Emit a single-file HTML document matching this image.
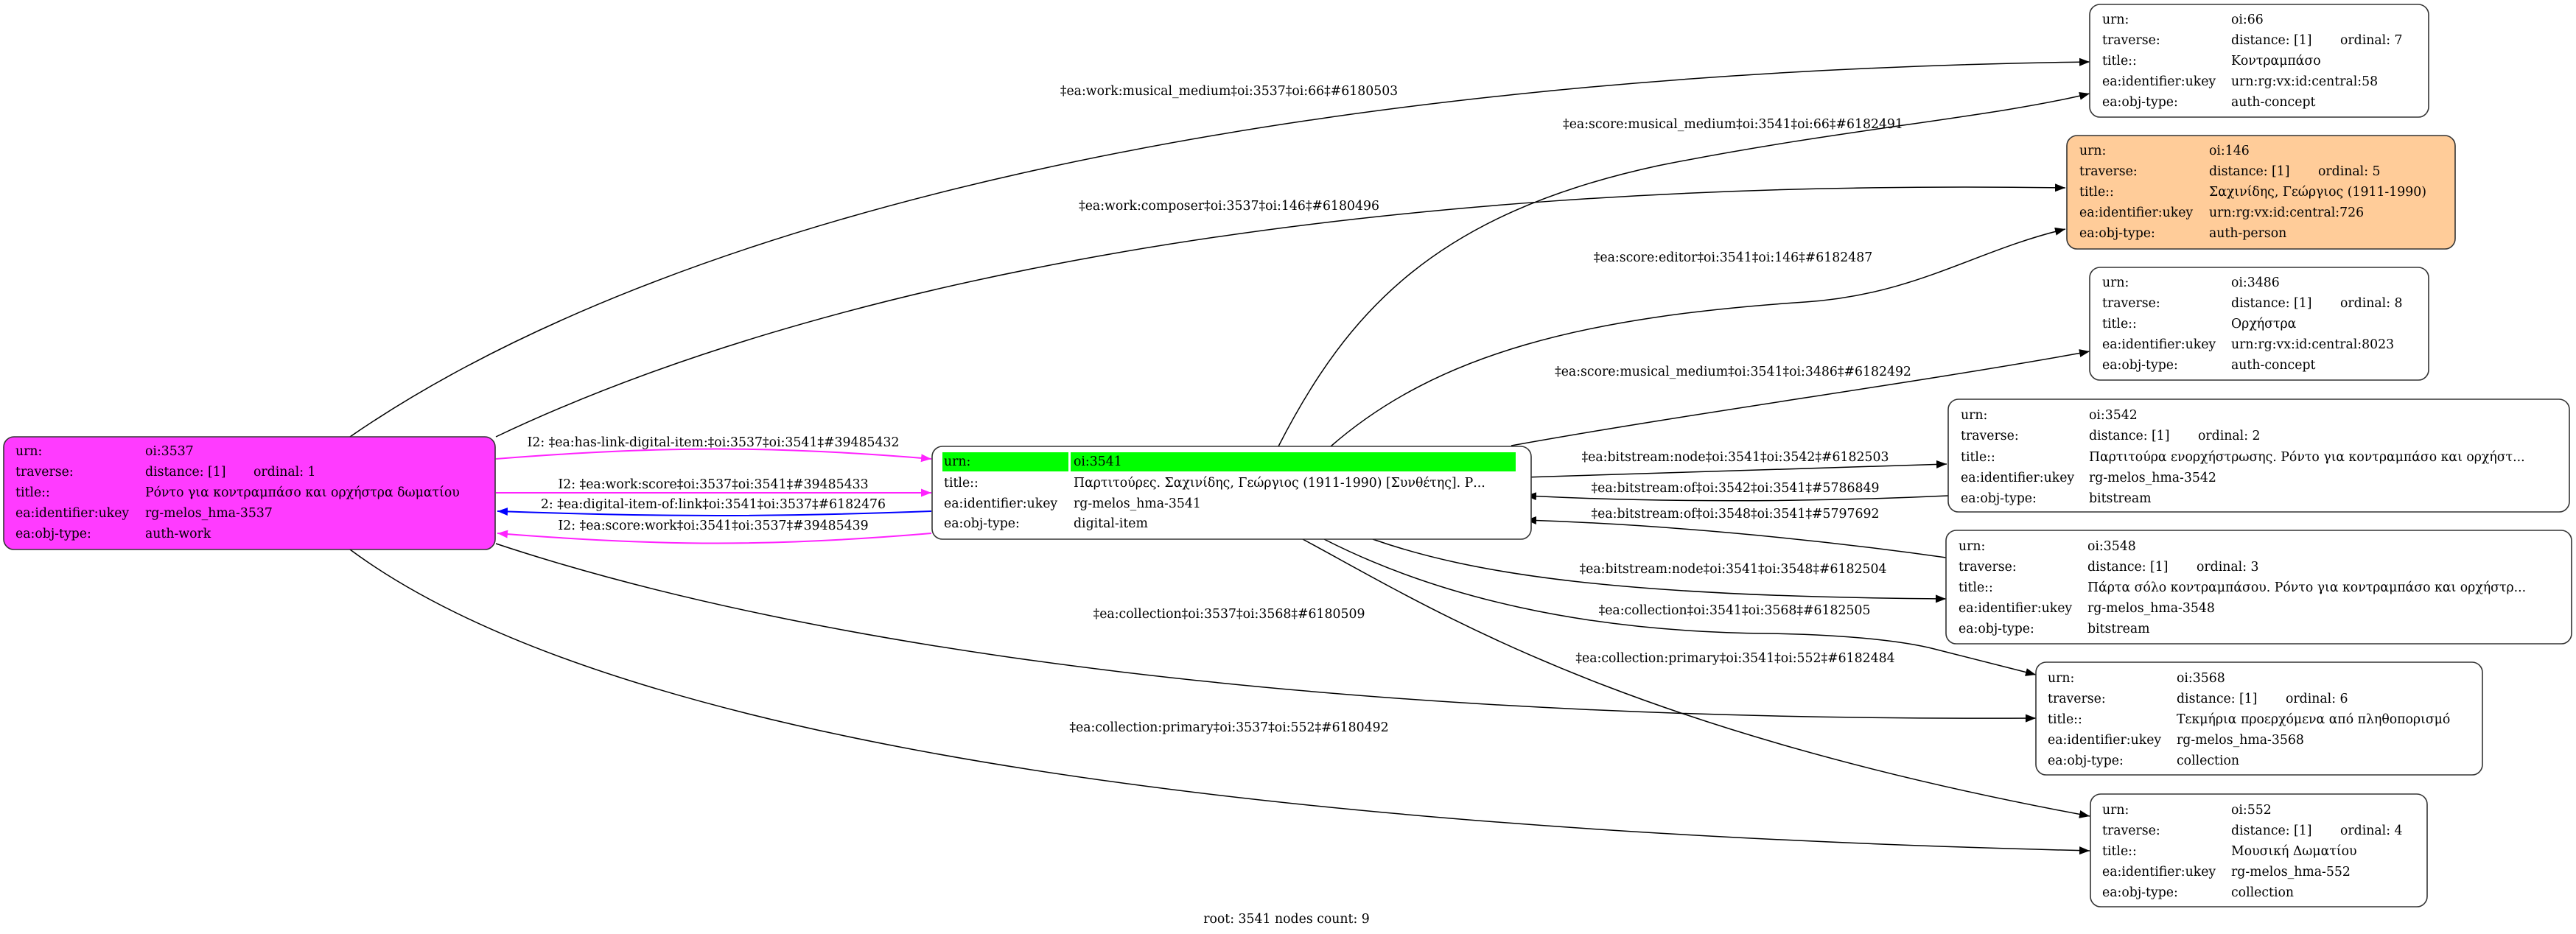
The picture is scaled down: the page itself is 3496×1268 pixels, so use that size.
<!DOCTYPE html>
<html><head><meta charset="utf-8">
<style>
html,body{margin:0;padding:0;background:#fff;}
svg{display:block;}
text{font-family:"DejaVu Serif","Liberation Serif",serif;font-size:17.3px;fill:#000;white-space:pre;}
.e{fill:none;stroke:#000;stroke-width:1.5;}
.m{fill:none;stroke:#ff22ff;stroke-width:2;}
.b{fill:none;stroke:#0000ff;stroke-width:2;}
.n{stroke:#333;stroke-width:1.6;}
.lab{text-anchor:middle;}
</style></head>
<body>
<svg width="3496" height="1268" viewBox="0 0 3496 1268" xmlns="http://www.w3.org/2000/svg">
<defs>
<marker id="ak" markerUnits="userSpaceOnUse" markerWidth="16" markerHeight="12" refX="14" refY="5.5" orient="auto"><path d="M0,0 L14,5.5 L0,11 Z" fill="#000"/></marker>
<marker id="am" markerUnits="userSpaceOnUse" markerWidth="16" markerHeight="12" refX="14" refY="5.5" orient="auto"><path d="M0,0 L14,5.5 L0,11 Z" fill="#ff22ff"/></marker>
<marker id="ab" markerUnits="userSpaceOnUse" markerWidth="16" markerHeight="12" refX="14" refY="5.5" orient="auto"><path d="M0,0 L14,5.5 L0,11 Z" fill="#0000ff"/></marker>
</defs>

<!-- edges -->
<path class="e" marker-end="url(#ak)" d="M475,593 C900,300 1700,100 2836,84"/>
<path class="e" marker-end="url(#ak)" d="M673,593 C1100,390 1800,240 2803,255"/>
<path class="e" marker-end="url(#ak)" d="M1735,606 C1830,420 1950,290 2250,225 C2500,175 2700,160 2836,127"/>
<path class="e" marker-end="url(#ak)" d="M1806,606 C1950,480 2150,430 2450,410 C2600,400 2680,340 2803,311"/>
<path class="e" marker-end="url(#ak)" d="M2051,605 C2300,560 2600,520 2836,477"/>
<path class="e" marker-end="url(#ak)" d="M2069,648 L2642,630"/>
<path class="e" marker-end="url(#ak)" d="M2644,673 C2450,682 2250,682 2071,673"/>
<path class="e" marker-end="url(#ak)" d="M2641,757 C2450,730 2250,712 2071,706"/>
<path class="e" marker-end="url(#ak)" d="M1863,732 C2000,780 2200,810 2641,813"/>
<path class="e" marker-end="url(#ak)" d="M1797,732 C1950,810 2150,858 2400,860 C2520,862 2590,872 2625,881 L2763,916"/>
<path class="e" marker-end="url(#ak)" d="M1768,732 C1950,830 2200,990 2836,1108"/>
<path class="e" marker-end="url(#ak)" d="M673,738 C1100,880 1800,980 2763,975"/>
<path class="e" marker-end="url(#ak)" d="M475,746 C750,950 1400,1120 2836,1155"/>

<path class="m" marker-end="url(#am)" d="M673,623 C900,605 1050,605 1264,623"/>
<path class="m" marker-end="url(#am)" d="M673,669 L1264,669"/>
<path class="b" marker-end="url(#ab)" d="M1264,694 C1050,702 900,702 675,694"/>
<path class="m" marker-end="url(#am)" d="M1264,724 C1050,742 900,742 675,724"/>

<!-- edge labels -->
<text class="lab" x="1668" y="129">‡ea:work:musical_medium‡oi:3537‡oi:66‡#6180503</text>
<text class="lab" x="1668" y="285">‡ea:work:composer‡oi:3537‡oi:146‡#6180496</text>
<text class="lab" x="2352" y="174">‡ea:score:musical_medium‡oi:3541‡oi:66‡#6182491</text>
<text class="lab" x="2352" y="355">‡ea:score:editor‡oi:3541‡oi:146‡#6182487</text>
<text class="lab" x="2352" y="510">‡ea:score:musical_medium‡oi:3541‡oi:3486‡#6182492</text>
<text class="lab" x="2355" y="626">‡ea:bitstream:node‡oi:3541‡oi:3542‡#6182503</text>
<text class="lab" x="2355" y="668">‡ea:bitstream:of‡oi:3542‡oi:3541‡#5786849</text>
<text class="lab" x="2355" y="703">‡ea:bitstream:of‡oi:3548‡oi:3541‡#5797692</text>
<text class="lab" x="2352" y="778">‡ea:bitstream:node‡oi:3541‡oi:3548‡#6182504</text>
<text class="lab" x="2354" y="834">‡ea:collection‡oi:3541‡oi:3568‡#6182505</text>
<text class="lab" x="2355" y="899">‡ea:collection:primary‡oi:3541‡oi:552‡#6182484</text>
<text class="lab" x="1668" y="839">‡ea:collection‡oi:3537‡oi:3568‡#6180509</text>
<text class="lab" x="1668" y="993">‡ea:collection:primary‡oi:3537‡oi:552‡#6180492</text>
<text class="lab" x="968" y="606">I2: ‡ea:has-link-digital-item:‡oi:3537‡oi:3541‡#39485432</text>
<text class="lab" x="968" y="663">I2: ‡ea:work:score‡oi:3537‡oi:3541‡#39485433</text>
<text class="lab" x="968" y="690">2: ‡ea:digital-item-of:link‡oi:3541‡oi:3537‡#6182476</text>
<text class="lab" x="968" y="719">I2: ‡ea:score:work‡oi:3541‡oi:3537‡#39485439</text>

<!-- node 3537 -->
<rect class="n" x="5" y="593" width="667" height="153" rx="14" fill="#ff3bff"/>
<g>
<text x="21" y="618">urn:</text><text x="197" y="618">oi:3537</text>
<text x="21" y="646">traverse:</text><text x="197" y="646">distance: [1]</text><text x="344" y="646">ordinal: 1</text>
<text x="21" y="674">title::</text><text x="197" y="674">Ρόντο για κοντραμπάσο και ορχήστρα δωματίου</text>
<text x="21" y="702">ea:identifier:ukey</text><text x="197" y="702">rg-melos_hma-3537</text>
<text x="21" y="730">ea:obj-type:</text><text x="197" y="730">auth-work</text>
</g>

<!-- node 3541 -->
<rect class="n" x="1265" y="606" width="813" height="126" rx="14" fill="#fff"/>
<rect x="1279" y="614" width="171" height="26" fill="#00ff00"/>
<rect x="1453" y="614" width="604" height="26" fill="#00ff00"/>
<text x="1281" y="632">urn:</text><text x="1457" y="632">oi:3541</text>
<text x="1281" y="661">title::</text><text x="1457" y="661">Παρτιτούρες. Σαχινίδης, Γεώργιος (1911-1990) [Συνθέτης]. Ρ...</text>
<text x="1281" y="689">ea:identifier:ukey</text><text x="1457" y="689">rg-melos_hma-3541</text>
<text x="1281" y="716">ea:obj-type:</text><text x="1457" y="716">digital-item</text>

<!-- node 66 -->
<rect class="n" x="2836" y="6" width="460" height="153" rx="14" fill="#fff"/>
<text x="2853" y="32">urn:</text><text x="3028" y="32">oi:66</text>
<text x="2853" y="60">traverse:</text><text x="3028" y="60">distance: [1]</text><text x="3176" y="60">ordinal: 7</text>
<text x="2853" y="88">title::</text><text x="3028" y="88">Κοντραμπάσο</text>
<text x="2853" y="116">ea:identifier:ukey</text><text x="3028" y="116">urn:rg:vx:id:central:58</text>
<text x="2853" y="144">ea:obj-type:</text><text x="3028" y="144">auth-concept</text>

<!-- node 146 -->
<rect class="n" x="2805" y="184" width="527" height="154" rx="14" fill="#ffcc99"/>
<text x="2822" y="210">urn:</text><text x="2998" y="210">oi:146</text>
<text x="2822" y="238">traverse:</text><text x="2998" y="238">distance: [1]</text><text x="3146" y="238">ordinal: 5</text>
<text x="2822" y="266">title::</text><text x="2998" y="266">Σαχινίδης, Γεώργιος (1911-1990)</text>
<text x="2822" y="294">ea:identifier:ukey</text><text x="2998" y="294">urn:rg:vx:id:central:726</text>
<text x="2822" y="322">ea:obj-type:</text><text x="2998" y="322">auth-person</text>

<!-- node 3486 -->
<rect class="n" x="2836" y="363" width="460" height="153" rx="14" fill="#fff"/>
<text x="2853" y="389">urn:</text><text x="3028" y="389">oi:3486</text>
<text x="2853" y="417">traverse:</text><text x="3028" y="417">distance: [1]</text><text x="3176" y="417">ordinal: 8</text>
<text x="2853" y="445">title::</text><text x="3028" y="445">Ορχήστρα</text>
<text x="2853" y="473">ea:identifier:ukey</text><text x="3028" y="473">urn:rg:vx:id:central:8023</text>
<text x="2853" y="501">ea:obj-type:</text><text x="3028" y="501">auth-concept</text>

<!-- node 3542 -->
<rect class="n" x="2644" y="542" width="843" height="153" rx="14" fill="#fff"/>
<text x="2661" y="569">urn:</text><text x="2835" y="569">oi:3542</text>
<text x="2661" y="597">traverse:</text><text x="2835" y="597">distance: [1]</text><text x="2983" y="597">ordinal: 2</text>
<text x="2661" y="626">title::</text><text x="2835" y="626">Παρτιτούρα ενορχήστρωσης. Ρόντο για κοντραμπάσο και ορχήστ...</text>
<text x="2661" y="654">ea:identifier:ukey</text><text x="2835" y="654">rg-melos_hma-3542</text>
<text x="2661" y="682">ea:obj-type:</text><text x="2835" y="682">bitstream</text>

<!-- node 3548 -->
<rect class="n" x="2641" y="720" width="849" height="154" rx="14" fill="#fff"/>
<text x="2658" y="747">urn:</text><text x="2833" y="747">oi:3548</text>
<text x="2658" y="775">traverse:</text><text x="2833" y="775">distance: [1]</text><text x="2981" y="775">ordinal: 3</text>
<text x="2658" y="803">title::</text><text x="2833" y="803">Πάρτα σόλο κοντραμπάσου. Ρόντο για κοντραμπάσο και ορχήστρ...</text>
<text x="2658" y="831">ea:identifier:ukey</text><text x="2833" y="831">rg-melos_hma-3548</text>
<text x="2658" y="859">ea:obj-type:</text><text x="2833" y="859">bitstream</text>

<!-- node 3568 -->
<rect class="n" x="2763" y="899" width="606" height="153" rx="14" fill="#fff"/>
<text x="2779" y="926">urn:</text><text x="2954" y="926">oi:3568</text>
<text x="2779" y="954">traverse:</text><text x="2954" y="954">distance: [1]</text><text x="3102" y="954">ordinal: 6</text>
<text x="2779" y="982">title::</text><text x="2954" y="982">Τεκμήρια προερχόμενα από πληθοπορισμό</text>
<text x="2779" y="1010">ea:identifier:ukey</text><text x="2954" y="1010">rg-melos_hma-3568</text>
<text x="2779" y="1038">ea:obj-type:</text><text x="2954" y="1038">collection</text>

<!-- node 552 -->
<rect class="n" x="2837" y="1078" width="457" height="153" rx="14" fill="#fff"/>
<text x="2853" y="1105">urn:</text><text x="3028" y="1105">oi:552</text>
<text x="2853" y="1133">traverse:</text><text x="3028" y="1133">distance: [1]</text><text x="3176" y="1133">ordinal: 4</text>
<text x="2853" y="1161">title::</text><text x="3028" y="1161">Μουσική Δωματίου</text>
<text x="2853" y="1189">ea:identifier:ukey</text><text x="3028" y="1189">rg-melos_hma-552</text>
<text x="2853" y="1217">ea:obj-type:</text><text x="3028" y="1217">collection</text>

<text class="lab" x="1746" y="1253">root: 3541 nodes count: 9</text>
</svg>
</body></html>
